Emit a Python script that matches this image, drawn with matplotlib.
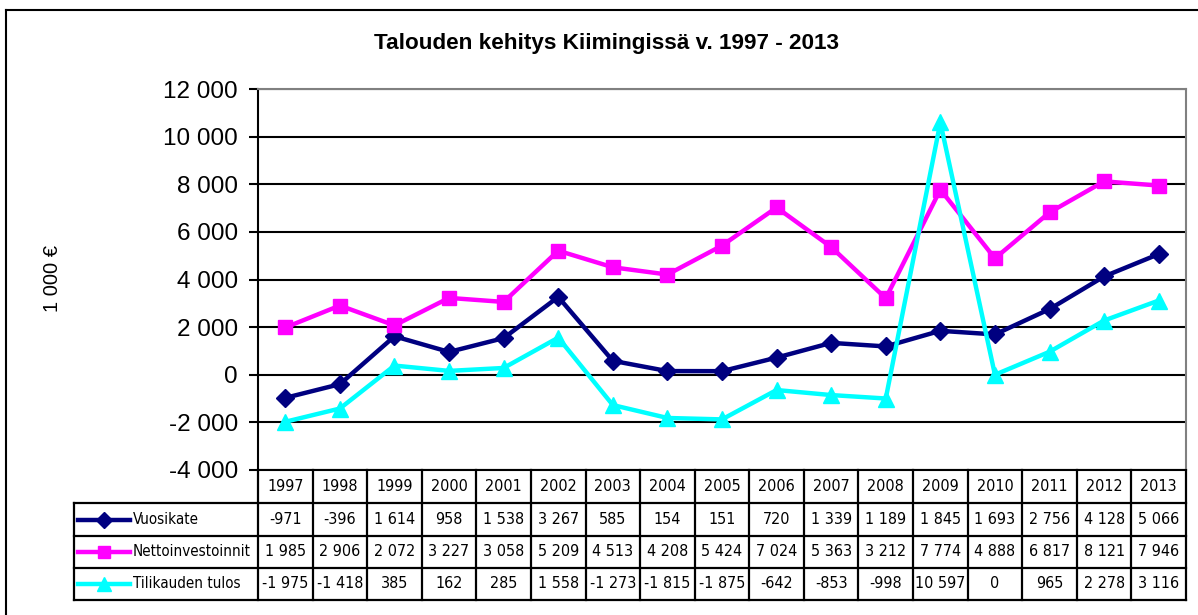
import matplotlib
matplotlib.use("Agg")
import matplotlib.pyplot as plt
import matplotlib.transforms as mtrans
from matplotlib.lines import Line2D
from matplotlib import font_manager as fm

# data
years = list(range(1997, 2014))
vuosikate = [-971, -396, 1614, 958, 1538, 3267, 585, 154, 151, 720, 1339, 1189, 1845, 1693, 2756, 4128, 5066]
netto = [1985, 2906, 2072, 3227, 3058, 5209, 4513, 4208, 5424, 7024, 5363, 3212, 7774, 4888, 6817, 8121, 7946]
tulos = [-1975, -1418, 385, 162, 285, 1558, -1273, -1815, -1875, -642, -853, -998, 10597, 0, 965, 2278, 3116]

series = [
    ("Vuosikate", vuosikate, "#000080", "D", 9),
    ("Nettoinvestoinnit", netto, "#FF00FF", "s", 10),
    ("Tilikauden tulos", tulos, "#00FFFF", "^", 11),
]

# narrow font for the table if there is one
for fam, st, fs in [('Liberation Sans Narrow', 'normal', 13), ('DejaVu Sans', 'condensed', 11.5)]:
    try:
        f = fm.findfont(fm.FontProperties(family=fam, stretch=st), fallback_to_default=False)
    except Exception:
        f = ''
    if ('Narrow' in f) or ('Condensed' in f):
        tfont = dict(family=[fam], stretch=st, fontsize=fs)
        break
else:
    tfont = dict(family=['Liberation Sans'], fontsize=11)
nfont = dict(tfont, fontsize=tfont['fontsize'] * 0.95)

W, H = 1198, 615
plt.rcParams['font.family'] = ['Liberation Sans', 'DejaVu Sans']

fig = plt.figure(figsize=(W / 100, H / 100), dpi=100)

# plot area in pixels
L, R, T, B = 258, 1186, 89, 470
ax = fig.add_axes([L / W, 1 - B / H, (R - L) / W, (B - T) / H])

x = list(range(len(years)))
for name, vals, col, mk, ms in series:
    ax.plot(x, vals, color=col, lw=3.2, marker=mk, ms=ms, mec=col, mfc=col, clip_on=False, zorder=3)

ax.set_xlim(-0.5, len(years) - 0.5)
ax.set_ylim(-4000, 12000)
ax.set_yticks(range(-4000, 12001, 2000))
ax.set_yticklabels([f"{v:,}".replace(",", " ") for v in range(-4000, 12001, 2000)], fontsize=17.5)
ax.yaxis.grid(True, color='black', lw=1.5)
ax.set_axisbelow(True)
ax.set_xticks([])
ax.tick_params(axis='y', length=6.5, width=1.5, direction='out', pad=8)
for s in ['top', 'right']:
    ax.spines[s].set_color('#808080')
    ax.spines[s].set_linewidth(1.5)
ax.spines['left'].set_linewidth(1.5)
ax.spines['bottom'].set_linewidth(1.5)

fig.text(52 / W, 1 - 278 / H, "1 000 €", rotation=90, fontsize=14.5, ha='center', va='center')
fig.text(607 / W, 1 - 43 / H, "Talouden kehitys Kiimingissä v. 1997 - 2013",
         fontsize=16.2, fontweight='bold', ha='center', va='center')

# outer chart frame (cropped at right and bottom)
fig.add_artist(Line2D([6 / W, 6 / W], [0, 1 - 10 / H], color='black', lw=1.5, transform=fig.transFigure))
fig.add_artist(Line2D([6 / W, 1], [1 - 10 / H, 1 - 10 / H], color='black', lw=1.5, transform=fig.transFigure))

# data table below the axes
def ya(px):
    return (B - px) / (B - T)

def xa(px):
    return (px - L) / (R - L)

row_edges = [470, 503, 536, 568, 600]
bl = mtrans.blended_transform_factory(ax.transData, ax.transAxes)
lk = dict(color='black', lw=1.6, clip_on=False)

for i in range(len(years) + 1):
    ax.plot([i - 0.5, i - 0.5], [ya(row_edges[0]), ya(row_edges[-1])], transform=bl, **lk)
for py in row_edges[1:]:
    ax.plot([xa(74), 1], [ya(py), ya(py)], transform=ax.transAxes, **lk)
ax.plot([xa(74), xa(74)], [ya(row_edges[1]), ya(row_edges[-1])], transform=ax.transAxes, **lk)

yc = lambda r: ya((row_edges[r] + row_edges[r + 1]) / 2)
for i, yr in enumerate(years):
    ax.text(i, yc(0), str(yr), transform=bl, ha='center', va='center', **tfont)

for r, (name, vals, col, mk, ms) in enumerate(series, start=1):
    ax.plot([xa(78), xa(130)], [yc(r), yc(r)], transform=ax.transAxes, color=col, lw=3.2, clip_on=False)
    ax.plot([xa(104)], [yc(r)], transform=ax.transAxes, color=col, marker=mk, ms=ms * 0.9, clip_on=False)
    ax.text(xa(133), yc(r), name, transform=ax.transAxes, ha='left', va='center', **nfont)
    for i, v in enumerate(vals):
        ax.text(i, yc(r), f"{v:,}".replace(",", " "), transform=bl, ha='center', va='center', **tfont)

fig.savefig("out.png", dpi=100)
